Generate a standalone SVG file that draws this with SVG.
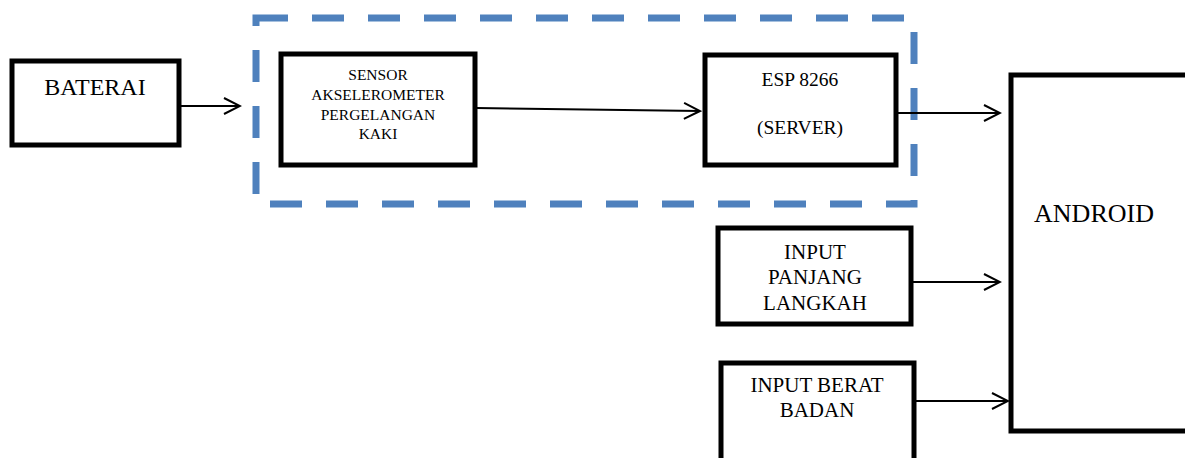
<svg xmlns="http://www.w3.org/2000/svg" width="1185" height="458" viewBox="0 0 1185 458">
<style>
.box{fill:#fff;stroke:#000;stroke-width:5}
.t{font-family:"Liberation Serif","Times New Roman",serif;fill:#000;text-anchor:middle}
.c{stroke:#000;stroke-width:2;fill:none}
</style>
<defs>
<marker id="ah" viewBox="0 0 20 20" refX="18" refY="10" markerWidth="20" markerHeight="20" markerUnits="userSpaceOnUse" orient="auto">
<path d="M2,2 L18,10 L2,18" fill="none" stroke="#000" stroke-width="2"/>
</marker>
</defs>
<rect width="1185" height="458" fill="#fff"/>
<g id="group-dashed">
<rect x="256" y="18" width="658" height="186" fill="none" stroke="#4F81BD" stroke-width="7" stroke-dasharray="32,24"/>
</g>
<g id="baterai">
<rect class="box" x="12" y="61" width="167" height="84"/>
<text class="t" x="95" y="95" font-size="24">BATERAI</text>
</g>
<g id="sensor">
<rect class="box" x="281" y="54" width="194" height="111"/>
<text class="t" x="378" y="80" font-size="15.5">SENSOR</text>
<text class="t" x="378" y="100" font-size="15.5">AKSELEROMETER</text>
<text class="t" x="378" y="120" font-size="15.5">PERGELANGAN</text>
<text class="t" x="378" y="139" font-size="15.5">KAKI</text>
</g>
<g id="esp">
<rect class="box" x="705" y="55" width="191" height="110"/>
<text class="t" x="800" y="86" font-size="19.5">ESP 8266</text>
<text class="t" x="800" y="134" font-size="19.5">(SERVER)</text>
</g>
<g id="input-panjang">
<rect class="box" x="718" y="228" width="193" height="96"/>
<text class="t" x="815" y="259" font-size="21">INPUT</text>
<text class="t" x="815" y="284" font-size="21">PANJANG</text>
<text class="t" x="815" y="310" font-size="21">LANGKAH</text>
</g>
<g id="input-berat">
<rect class="box" x="721" y="363" width="193" height="100"/>
<text class="t" x="817" y="392" font-size="21">INPUT BERAT</text>
<text class="t" x="817" y="417" font-size="21">BADAN</text>
</g>
<g id="android">
<rect class="box" x="1011" y="75" width="190" height="356"/>
<text class="t" x="1094" y="222" font-size="26">ANDROID</text>
</g>
<g id="connectors">
<line class="c" x1="180" y1="106" x2="240" y2="106" marker-end="url(#ah)"/>
<line class="c" x1="476" y1="108" x2="700" y2="111" marker-end="url(#ah)"/>
<line class="c" x1="897" y1="113" x2="1000" y2="113" marker-end="url(#ah)"/>
<line class="c" x1="912" y1="282" x2="1000" y2="282" marker-end="url(#ah)"/>
<line class="c" x1="915" y1="401" x2="1008" y2="401" marker-end="url(#ah)"/>
</g>
</svg>
